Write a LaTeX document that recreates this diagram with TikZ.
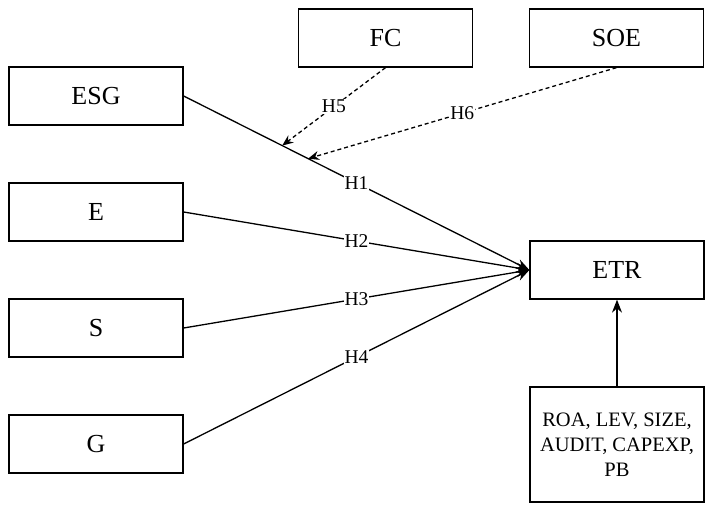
\documentclass[tikz,border=0pt]{standalone}
\usepackage{fontspec}
\setmainfont{Liberation Serif}
\usetikzlibrary{arrows.meta,calc}
\begin{document}
\begin{tikzpicture}[x=1pt,y=1pt,
  box/.style={draw,line width=1.3pt,minimum width=174pt,minimum height=58pt,inner sep=0pt,font=\fontsize{26}{30}\selectfont},
  conn/.style={line width=1.3pt,-{Stealth[length=13pt,width=10pt]}},
  modconn/.style={line width=1.3pt,dash pattern=on 4pt off 3pt,-{Stealth[length=11pt,width=9pt]}},
  hlab/.style={fill=white,inner sep=1pt,font=\fontsize{19.5}{22}\selectfont}]
\useasboundingbox (0,0) rectangle (712,-510);
\node[box] (esg) at (96,-96) {ESG};
\node[box] (e) at (96,-212) {E};
\node[box] (s) at (96,-328) {S};
\node[box] (g) at (96,-444) {G};
\node[box] (etr) at (617,-270) {ETR};
\node[box] (fc) at (385.5,-38) {FC};
\node[box] (soe) at (616.5,-38) {SOE};
\node[box,minimum height=115pt,align=center,font=\fontsize{20.5}{25}\selectfont] (ctrl) at (617,-444.5) {ROA, LEV, SIZE,\\AUDIT, CAPEXP,\\PB};
\draw[conn] (esg.east) -- node[hlab] {H1} (etr.west);
\draw[conn] (e.east) -- node[hlab] {H2} (etr.west);
\draw[conn] (s.east) -- node[hlab] {H3} (etr.west);
\draw[conn] (g.east) -- node[hlab] {H4} (etr.west);
\coordinate (m5) at ($(esg.east)!0.285!(etr.west)$);
\coordinate (m6) at ($(esg.east)!0.36!(etr.west)$);
\draw[modconn] (fc.south) -- node[hlab] {H5} (m5);
\draw[modconn] (soe.south) -- node[hlab] {H6} (m6);
\draw[conn] (ctrl.north) -- (etr.south);
\end{tikzpicture}
\end{document}
